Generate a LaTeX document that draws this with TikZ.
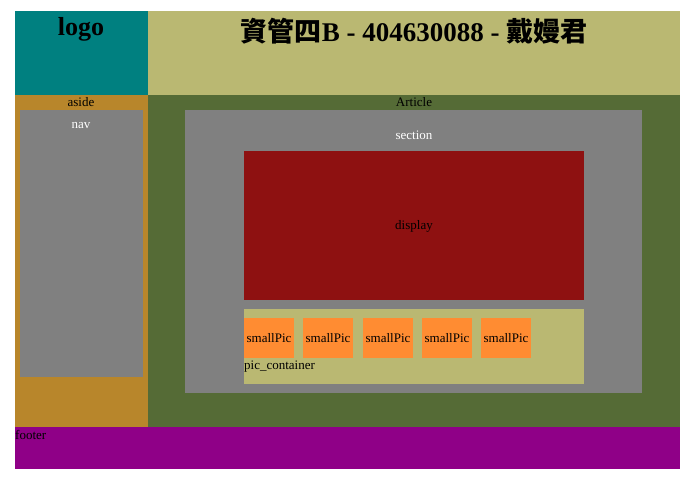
\documentclass[tikz,border=0pt]{standalone}
\usepackage{fontspec}
\setmainfont{Liberation Serif}
\newfontfamily\cjk{Noto Sans CJK TC}
\definecolor{logoteal}{RGB}{0,128,128}
\definecolor{headkhaki}{RGB}{186,184,114}
\definecolor{asidegold}{RGB}{184,134,43}
\definecolor{articlegreen}{RGB}{85,107,54}
\definecolor{boxgray}{RGB}{128,128,128}
\definecolor{displayred}{RGB}{142,17,17}
\definecolor{picorange}{RGB}{255,140,50}
\definecolor{footpurple}{RGB}{143,0,135}
\begin{document}
\begin{tikzpicture}[x=1pt,y=-1pt,
    box/.style={inner sep=0pt,outer sep=0pt,anchor=north west},
    lbl/.style={inner sep=0pt,font=\fontsize{13}{15}\selectfont},
    big/.style={inner sep=0pt,font=\fontsize{27}{31}\selectfont\bfseries}]
    \useasboundingbox[fill=white] (0,0) rectangle (692,481);
    % page blocks
    \node[box,fill=logoteal,minimum width=133pt,minimum height=84pt] (logo) at (15,11) {};
    \node[box,fill=headkhaki,minimum width=532pt,minimum height=84pt] (header) at (148,11) {};
    \node[box,fill=asidegold,minimum width=133pt,minimum height=332pt] (aside) at (15,95) {};
    \node[box,fill=boxgray,minimum width=123pt,minimum height=267pt] (nav) at (20,110) {};
    \node[box,fill=articlegreen,minimum width=532pt,minimum height=332pt] (article) at (148,95) {};
    \node[box,fill=boxgray,minimum width=457pt,minimum height=283pt] (section) at (185,110) {};
    \node[box,fill=displayred,minimum width=340pt,minimum height=149pt] (display) at (244,151) {};
    \node[box,fill=headkhaki,minimum width=340pt,minimum height=75pt] (piccont) at (244,309) {};
    \node[box,fill=footpurple,minimum width=665pt,minimum height=42pt] (footer) at (15,427) {};
    \foreach \i/\x in {1/244,2/303,3/363,4/422,5/481}
        \node[box,fill=picorange,minimum width=50pt,minimum height=40pt] (pic\i) at (\x,318) {};
    % labels
    \node[big,font=\fontsize{26}{30}\selectfont\bfseries] (logotxt) at (81,29) {logo};
    \node[big] (title) at (414,31) {{\cjk\bfseries 資管四}B - 404630088 - {\cjk\bfseries 戴嫚君}};
    \node[lbl] (asidetxt) at (81,102) {aside};
    \node[lbl] (articletxt) at (414,102) {Article};
    \node[lbl,text=white] (navtxt) at (81,126) {nav};
    \node[lbl,text=white] (sectiontxt) at (414,135) {section};
    \node[lbl] (displaytxt) at (414,226) {display};
    \foreach \i in {1,...,5}
        \node[lbl] (pictxt\i) at (pic\i.center) {smallPic};
    \node[lbl,anchor=west] (picconttxt) at (244,367) {pic\_container};
    \node[lbl,anchor=west] (footertxt) at (15,435) {footer};
\end{tikzpicture}
\end{document}
